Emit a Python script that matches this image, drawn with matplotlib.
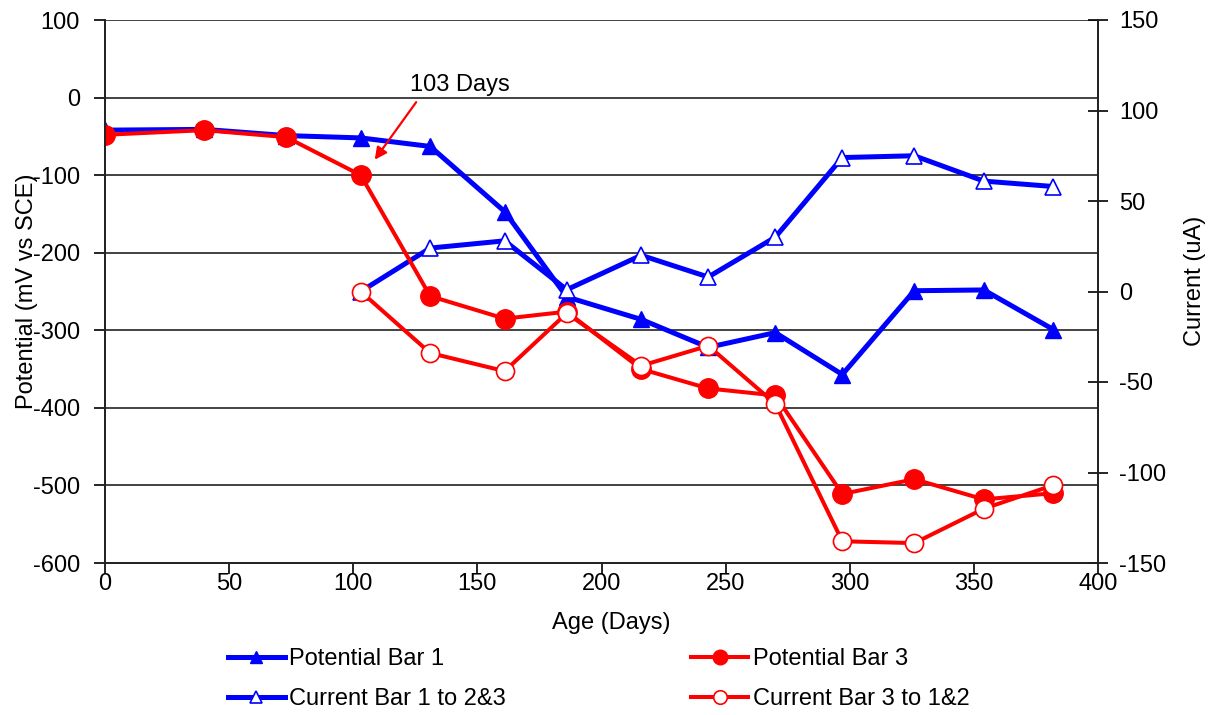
import matplotlib
matplotlib.use("Agg")
import matplotlib.pyplot as plt

plt.rcParams['font.family'] = ['Liberation Sans', 'DejaVu Sans']

# Sample ages (days)
days = [0, 40, 73, 103, 131, 161, 186, 216, 243, 270, 297, 326, 354, 382]
days_current = days[3:]

# Half-cell potentials (mV vs SCE)
potential_bar1 = [-42, -41, -49, -52, -63, -147, -257, -286, -322, -303, -357, -249, -248, -299]
potential_bar3 = [-48, -42, -51, -100, -256, -285, -276, -350, -375, -384, -511, -492, -518, -510]

# Macrocell currents (uA)
current_bar1 = [0, 24, 28, 1, 20, 8, 30, 74, 75, 61, 58]
current_bar3 = [0, -34, -44, -12, -41, -30, -62, -138, -139, -120, -107]

left_ticks = [100, 0, -100, -200, -300, -400, -500, -600]
left_labels = ['100', '0', '-100', '-200', '-300', '-400', '-500', '-600']
right_ticks = [150, 100, 50, 0, -50, -100, -150]
x_ticks = [0, 50, 100, 150, 200, 250, 300, 350, 400]

BLUE = '#0000FF'
RED = '#FF0000'
FS = 17

fig = plt.figure(figsize=(12.1, 7.15), dpi=100)
ax = fig.add_axes([105 / 1210, 1 - 563 / 715, 993 / 1210, 543 / 715])
ax2 = ax.twinx()

ax.set_xlim(0, 400)
ax.set_ylim(-600, 100)
ax2.set_ylim(-150, 150)

# horizontal grid at the potential ticks
for v in left_ticks[:-1]:
    ax.axhline(v, color='#222222', lw=1.2, zorder=0)

l1, = ax.plot(days, potential_bar1, color=BLUE, lw=3.6, marker='^', ms=12,
              mfc=BLUE, mec=BLUE, zorder=3, label='Potential Bar 1')
l2, = ax.plot(days_current, current_bar1, color=BLUE, lw=3.6, marker='^', ms=12,
              mfc='white', mec=BLUE, mew=1.2, transform=ax2.transData, zorder=4,
              label='Current Bar 1 to 2&3')
l3, = ax.plot(days, potential_bar3, color=RED, lw=2.9, marker='o', ms=14,
              mfc=RED, mec=RED, zorder=5, label='Potential Bar 3')
l4, = ax.plot(days_current, current_bar3, color=RED, lw=2.9, marker='o', ms=13,
              mfc='white', mec=RED, mew=1.2, transform=ax2.transData, zorder=6,
              label='Current Bar 3 to 1&2')

# annotation marking the 103-day reading
ax.text(143, 16, '103 Days', fontsize=FS, ha='center', va='center', zorder=7)
ax.annotate('', xy=(108, -83), xytext=(126, -3),
            arrowprops=dict(arrowstyle='-|>', color=RED, lw=1.6, mutation_scale=18),
            zorder=7)

# axes styling
for a in (ax, ax2):
    for s in a.spines.values():
        s.set_color('#222222')
        s.set_linewidth(1.3)
ax.spines['top'].set_visible(False)
ax2.spines['top'].set_visible(False)

ax.set_xticks(x_ticks)
ax.set_xticklabels([str(t) for t in x_ticks])
ax.set_yticks(left_ticks)
ax.set_yticklabels(left_labels)
ax2.set_yticks(right_ticks)
ax2.set_yticklabels([str(t) for t in right_ticks])

ax.tick_params(axis='x', direction='out', length=8, width=1.2, pad=-1, labelsize=FS)
ax.tick_params(axis='y', direction='out', length=8, width=1.2, pad=10, labelsize=FS)
ax2.tick_params(axis='y', direction='inout', length=14, width=1.2, pad=8, labelsize=FS)

ax.set_xlabel('Age (Days)', fontsize=FS)
ax.xaxis.set_label_coords(0.51, -0.09)
ax.set_ylabel('Potential (mV vs SCE)', fontsize=FS)
ax.yaxis.set_label_coords(-0.067, 0.5)
ax2.set_ylabel('Current (uA)', fontsize=FS)
ax2.yaxis.set_label_coords(1.087, 0.52)

fig.legend(handles=[l1, l2, l3, l4], ncol=2, loc='upper left',
           bbox_to_anchor=(228 / 1210, 1 - 648 / 715), frameon=False,
           fontsize=FS, handlelength=2.4, handletextpad=0.2,
           columnspacing=7.85, labelspacing=0.77, borderpad=0, borderaxespad=0,
           markerscale=0.75)

fig.savefig('out.png', dpi=100)
